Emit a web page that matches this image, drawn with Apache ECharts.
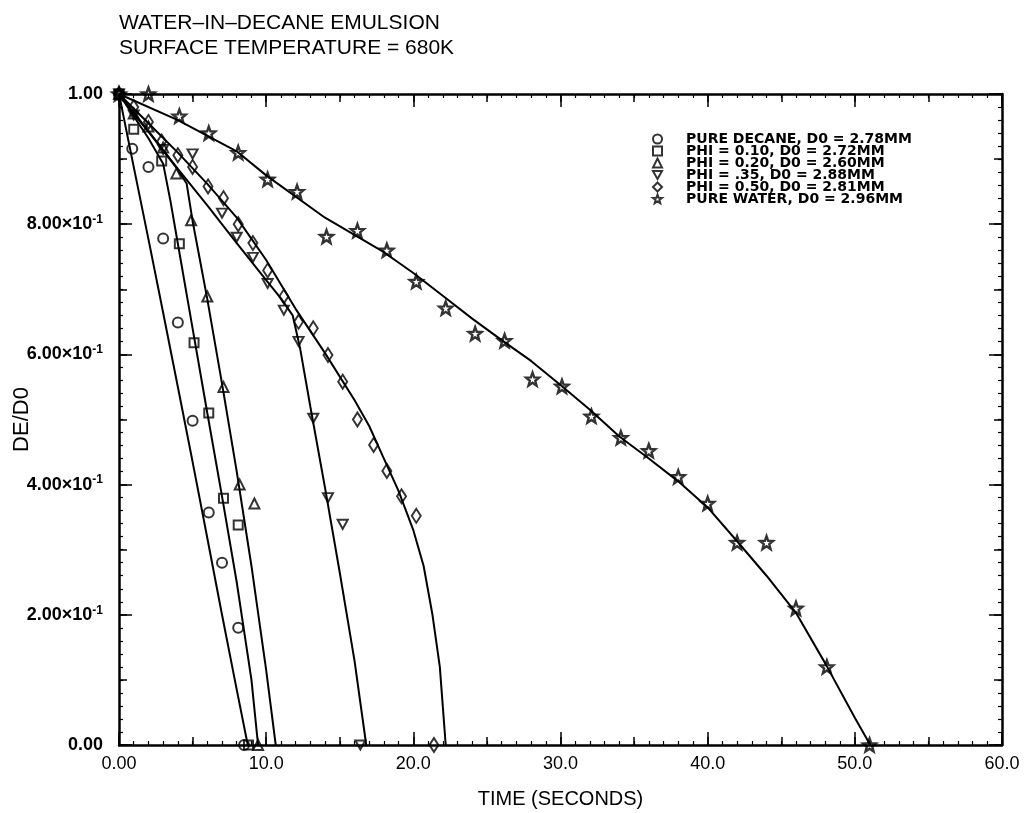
<!DOCTYPE html>
<html><head><meta charset="utf-8">
<script src="https://cdn.jsdelivr.net/npm/echarts/dist/echarts.min.js"></script>
<style>html,body{margin:0;padding:0;background:#fff}#c{width:1026px;height:813px}</style>
</head><body><div id="c"></div>
<script>
// ---------- DATA ----------
const titleLines = ['WATER\u2013IN\u2013DECANE EMULSION', 'SURFACE TEMPERATURE = 680K'];
const xName = 'TIME (SECONDS)';
const yName = 'DE/D0';
const xTickText = ['0.00', '10.0', '20.0', '30.0', '40.0', '50.0', '60.0'];
const yTickMant = ['0.00', '2.00', '4.00', '6.00', '8.00', '1.00'];
const yTickExp  = ['', '-1', '-1', '-1', '-1', ''];
const legendNames = [
  'PURE DECANE, D0 = 2.78MM',
  'PHI = 0.10, D0 = 2.72MM',
  'PHI = 0.20, D0 = 2.60MM',
  'PHI = .35, D0 = 2.88MM',
  'PHI = 0.50, D0 = 2.81MM',
  'PURE WATER, D0 = 2.96MM'
];

// measured points [time s, DE/D0]
const decanePts = [[0,1],[0.9,0.916],[2.0,0.888],[3.0,0.778],[4.0,0.649],[5.0,0.498],[6.1,0.357],[7.0,0.28],[8.1,0.18],[8.5,0]];
const phi10Pts  = [[0,1],[1.0,0.946],[2.9,0.897],[4.1,0.77],[5.1,0.618],[6.1,0.51],[7.1,0.379],[8.1,0.338],[8.8,0]];
const phi20Pts  = [[0,1],[1,0.97],[2,0.95],[3,0.918],[3.9,0.878],[4.9,0.806],[6.0,0.689],[7.1,0.55],[8.2,0.40],[9.2,0.371],[9.45,0]];
const phi35Pts  = [[0,1],[1,0.968],[3,0.915],[5,0.908],[7,0.817],[8,0.78],[9.1,0.749],[10.1,0.709],[11.2,0.668],[12.2,0.62],[13.2,0.502],[14.2,0.38],[15.2,0.339],[16.4,0]];
const phi50Pts  = [[0,1],[1,0.98],[2,0.957],[2.9,0.927],[4,0.906],[5,0.888],[6.05,0.858],[7.1,0.84],[8.1,0.8],[9.1,0.771],[10.1,0.729],[11.2,0.689],[12.2,0.65],[13.2,0.64],[14.2,0.599],[15.2,0.558],[16.2,0.5],[17.3,0.461],[18.2,0.421],[19.2,0.382],[20.2,0.352],[21.4,0]];
const waterPts  = [[0,1],[2,1.0],[4.1,0.966],[6.1,0.94],[8.1,0.91],[10.1,0.869],[12.1,0.85],[14.1,0.781],[16.2,0.79],[18.2,0.76],[20.2,0.712],[22.2,0.671],[24.2,0.632],[26.2,0.621],[28.1,0.562],[30.1,0.551],[32.1,0.505],[34.1,0.472],[36.0,0.452],[38.0,0.412],[40.0,0.371],[42.0,0.311],[44.0,0.311],[46.0,0.21],[48.1,0.12],[51.0,0]];

// fitted curves [time s, DE/D0]
const decaneFit = [[0,1],[1,0.888],[2,0.777],[3,0.664],[4,0.55],[5,0.435],[6,0.318],[7,0.2],[8,0.085],[8.75,0]];
const phi10Fit  = [[0,1],[1,0.966],[2,0.932],[3,0.893],[3.5,0.835],[4,0.77],[5,0.64],[6,0.51],[7,0.382],[8,0.25],[9,0.1],[9.45,0]];
const phi20Fit  = [[0,1],[1,0.97],[2,0.942],[3,0.913],[4,0.884],[4.6,0.862],[5,0.805],[5.5,0.745],[6,0.685],[7,0.555],[8,0.42],[9,0.275],[10,0.115],[10.65,0]];
const phi35Fit  = [[0,1],[2,0.943],[4,0.885],[6,0.829],[8,0.771],[10,0.714],[11,0.686],[11.8,0.66],[12.3,0.61],[13,0.52],[14,0.395],[15,0.265],[16,0.13],[16.8,0]];
const phi50Fit  = [[0,1],[2,0.955],[4,0.91],[6,0.862],[8,0.81],[10,0.745],[12,0.67],[14,0.602],[16,0.53],[17,0.49],[18,0.44],[19,0.39],[20,0.33],[20.7,0.275],[21.3,0.2],[21.8,0.12],[22.2,0]];
const waterFit  = [[0,1],[4,0.96],[8,0.912],[10,0.875],[14,0.81],[18,0.757],[20,0.725],[22,0.69],[24,0.655],[26,0.622],[28,0.59],[30,0.553],[32,0.515],[34,0.474],[36,0.44],[38,0.405],[40,0.365],[42,0.313],[44,0.26],[46,0.203],[48,0.125],[50,0.042],[51.05,0]];

// ---------- STYLE ----------
const STAR = 'path://M50,0L62.3,33L97.6,34.5L70,56.5L79.4,90.5L50,71L20.6,90.5L30,56.5L2.4,34.5L37.7,33Z';
const INVTRI = 'path://M0,0L100,0L50,87Z';
const symbols = ['circle', 'rect', 'triangle', INVTRI, 'diamond', STAR];
const symSizes = [10, 9, 10, [10, 9], [9, 14], 13];
const ptsList = [decanePts, phi10Pts, phi20Pts, phi35Pts, phi50Pts, waterPts];
const fitList = [decaneFit, phi10Fit, phi20Fit, phi35Fit, phi50Fit, waterFit];
const FONT = 'Liberation Sans, Arial, sans-serif';

const series = [];
fitList.forEach((d, i) => series.push({
  type: 'line', name: 'fit' + i, data: d, showSymbol: false, smooth: false,
  lineStyle: { color: '#000', width: 2 }, silent: true, z: 2
}));
ptsList.forEach((d, i) => series.push({
  type: 'scatter', name: legendNames[i], data: d, symbol: symbols[i], symbolSize: symSizes[i],
  itemStyle: { color: 'rgba(255,255,255,0)', borderColor: '#000', borderWidth: i === 5 ? 2.4 : 2 }, z: 3
}));

function frameAxis(pos, min, max, interval, tickLen, minorSplit, showLine) {
  return {
    type: 'value', position: pos, min: min, max: max, interval: interval,
    axisLine: { show: showLine, onZero: false, lineStyle: { color: '#000', width: 2.5 } },
    axisTick: { show: true, inside: true, length: tickLen, lineStyle: { color: '#000', width: 1.5 } },
    minorTick: { show: minorSplit > 0, splitNumber: minorSplit || 5, length: 4, lineStyle: { color: '#000', width: 1.2 } },
    axisLabel: { show: false }, splitLine: { show: false }, minorSplitLine: { show: false }
  };
}

const xMain = frameAxis('bottom', 0, 60, 10, 13, 10, true);
xMain.axisLabel = { show: true, color: '#000', fontFamily: FONT, fontSize: 18, margin: 10,
  formatter: v => xTickText[Math.round(v / 10)] };
xMain.name = xName; xMain.nameLocation = 'middle'; xMain.nameGap = 44; xMain.nameMoveOverlap = false;
xMain.nameTextStyle = { color: '#000', fontFamily: FONT, fontSize: 20 };

const yMain = frameAxis('left', 0, 1, 0.2, 13, 10, true);
yMain.axisLabel = { show: true, color: '#000', fontFamily: FONT, fontSize: 18, fontWeight: 'bold', margin: 16,
  formatter: v => { const k = Math.round(v / 0.2); return yTickExp[k] ? yTickMant[k] + '\u00d710{s|' + yTickExp[k] + '}' : yTickMant[k]; },
  rich: { s: { fontSize: 12, fontWeight: 'bold', fontFamily: FONT, color: '#000', padding: [0, 0, 9, 0] } } };
yMain.name = yName; yMain.nameLocation = 'middle'; yMain.nameGap = 86; yMain.nameMoveOverlap = false;
yMain.nameTextStyle = { color: '#000', fontFamily: FONT, fontSize: 22 };

const option = {
  backgroundColor: '#fff',
  animation: false,
  title: { text: titleLines.join('\n'), left: 119, top: 11, padding: 0,
    textStyle: { color: '#000', fontFamily: FONT, fontSize: 21, fontWeight: 'normal', lineHeight: 25 } },
  legend: {
    data: legendNames, orient: 'vertical', left: 652, top: 132, itemGap: -2, itemWidth: 9, itemHeight: 9, padding: 0,
    textStyle: { color: '#000', fontFamily: 'DejaVu Sans', fontWeight: 'bold', fontSize: 14, lineHeight: 11, padding: [0, 0, 0, 19] },
    selectedMode: false
  },
  grid: { left: 119, right: 24, top: 94, bottom: 68, containLabel: false, outerBoundsMode: 'none' },
  xAxis: [xMain, frameAxis('top', 0, 60, 10, 13, 10, true), frameAxis('bottom', 0, 60, 5, 8, 0, false), frameAxis('top', 0, 60, 5, 8, 0, false)],
  yAxis: [yMain, frameAxis('right', 0, 1, 0.2, 13, 10, true), frameAxis('left', 0, 1, 0.1, 8, 0, false), frameAxis('right', 0, 1, 0.1, 8, 0, false)],
  series: series
};
const chart = echarts.init(document.getElementById('c'), null, { renderer: 'canvas' });
chart.setOption(option);
</script>
</body></html>
